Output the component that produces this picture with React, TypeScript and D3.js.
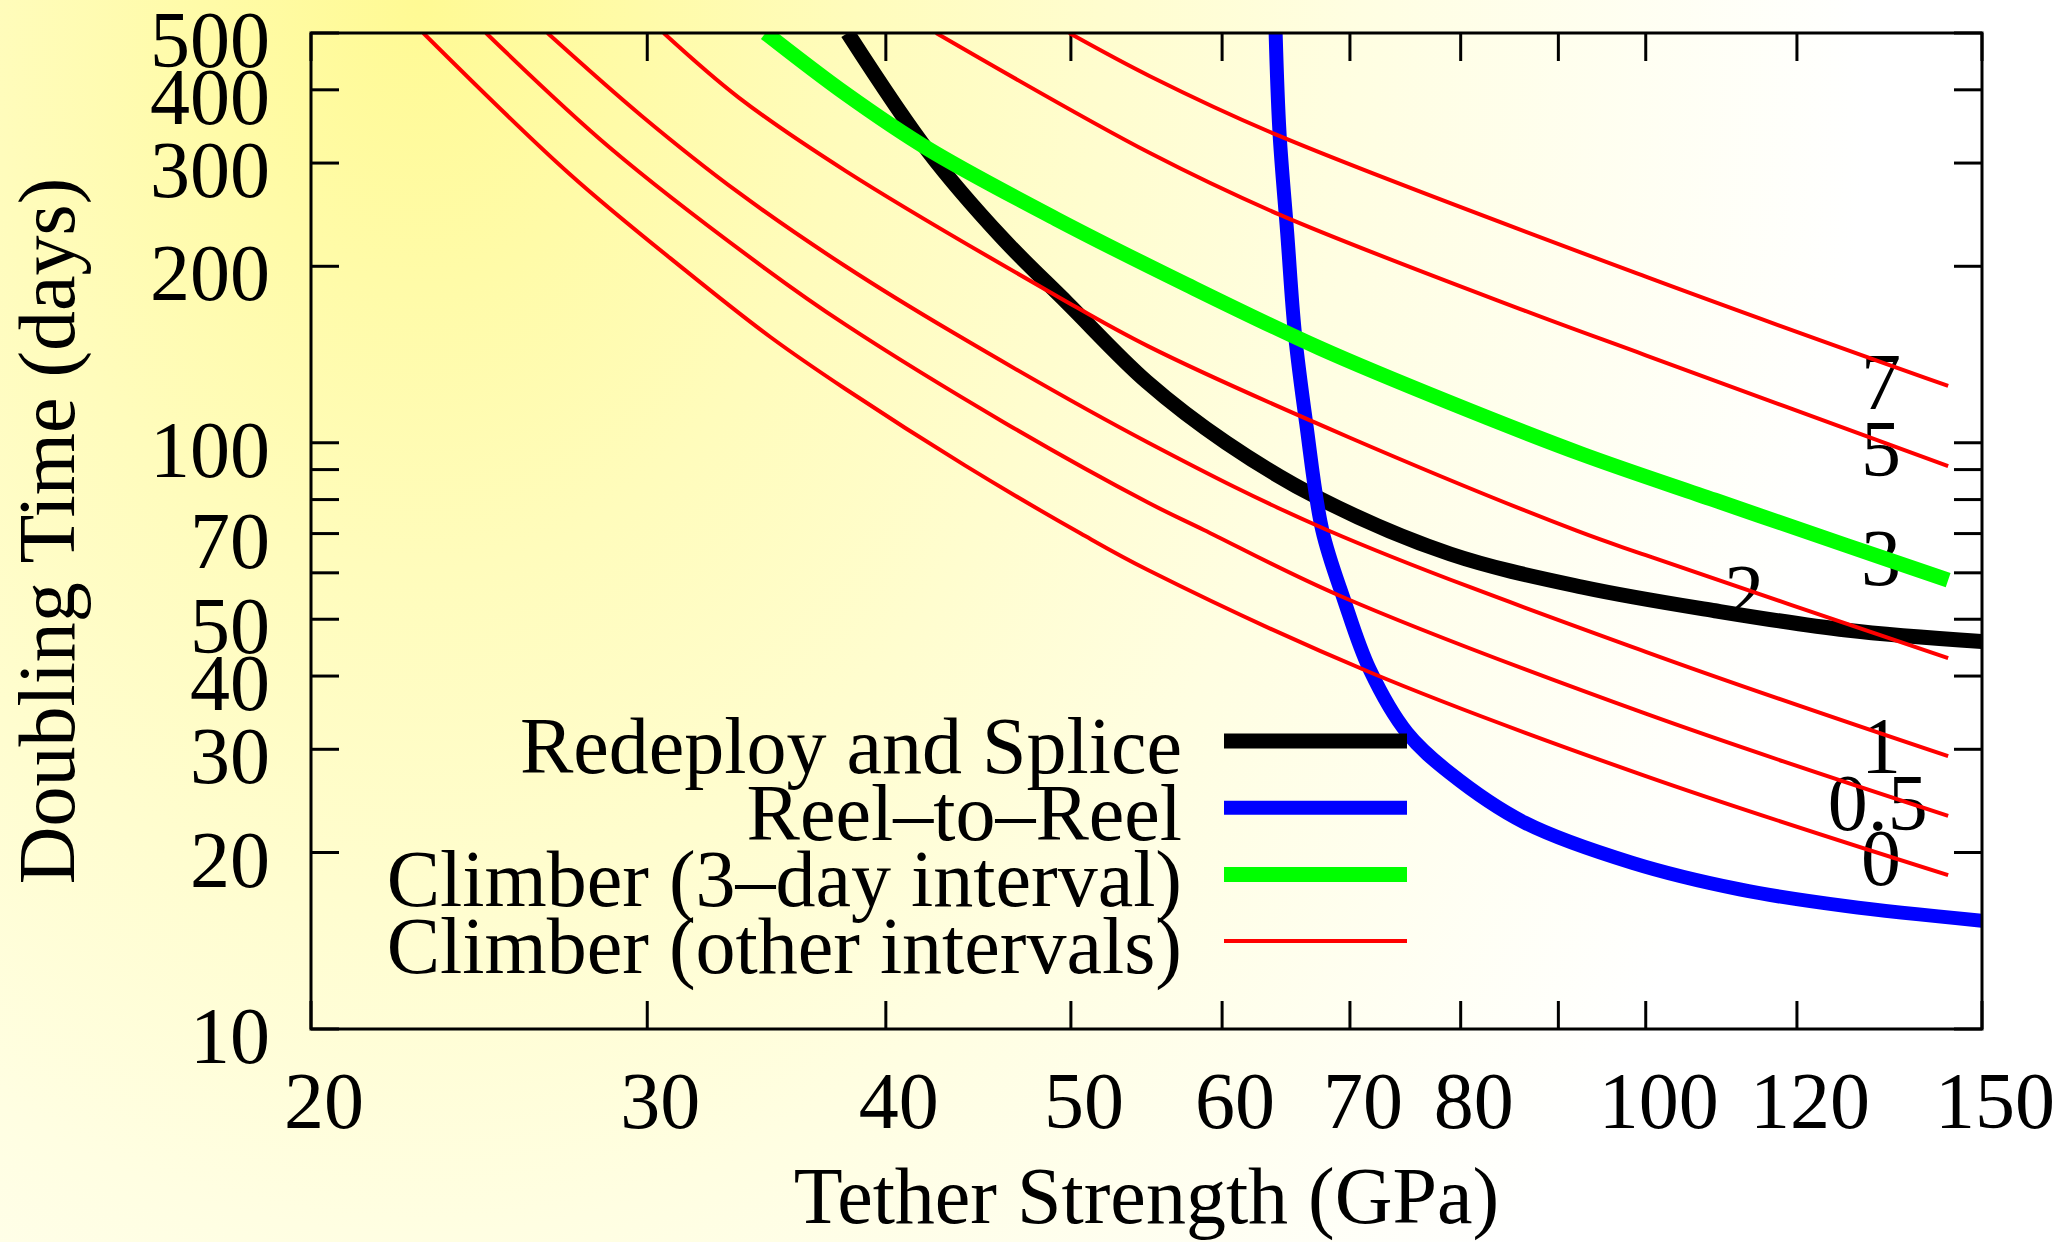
import React from 'react';
import * as d3 from 'd3';

const width = 2068;
const height = 1242;
const margin = { top: 33, right: 86, bottom: 213, left: 311 };

// axis ticks (log scales)
const xTicks = [20, 30, 40, 50, 60, 70, 80, 90, 100, 120, 150];
const xTickLabels = ['20', '30', '40', '50', '60', '70', '80', '', '100', '120', '150'];
const yTicks = [10, 20, 30, 40, 50, 60, 70, 80, 90, 100, 200, 300, 400, 500];
const yTickLabels = ['10', '20', '30', '40', '50', '', '70', '', '', '100', '200', '300', '400', '500'];

// Redeploy and Splice
const redeployX = [38.2, 42.1, 46, 49.8, 54.8, 60.3, 67.5, 79, 92.7, 108.7, 127.4, 150];
const redeployY = [500, 314, 224, 173, 127, 100, 80.3, 64.6, 56.7, 51.7, 47.9, 45.8];

// Reel-to-Reel
const reelX = [64.0, 64.3, 64.9, 65.5, 66.4, 67.7, 69.5, 71.7, 75, 79, 86.4, 98.4, 112, 127.4, 150];
const reelY = [500, 338, 228, 154, 108, 71, 54, 41, 32, 27.3, 22.5, 19.2, 17.3, 16.2, 15.3];

// Climber, 3-day interval
const climb3X = [34.6, 38.1, 42.1, 49.1, 57.5, 67.5, 79, 92.7, 108.7, 127.4, 144];
const climb3Y = [500, 394, 317, 241, 186, 145, 117, 95.5, 79.8, 66.8, 58.3];

// Climber, other intervals
const climb0X = [22.9, 27.3, 31.4, 34.8, 38.1, 44, 50.6, 54.9, 71.7, 100, 144];
const climb0Y = [500, 288, 197, 151.5, 123.5, 91.5, 70, 60.6, 40.6, 27, 18.3];
const climb05X = [24.7, 28.7, 34.6, 38.1, 46.2, 54.9, 58.7, 69, 100, 144];
const climb05Y = [500, 318, 198, 159, 108, 79, 71, 55, 34.5, 23.1];
const climb1X = [26.6, 29.8, 33.5, 38.1, 43.4, 54.9, 68.1, 100, 144];
const climb1Y = [500, 361, 267, 200, 154, 100, 71, 44, 29.2];
const climb2X = [30.6, 33.5, 38.1, 49.3, 54.9, 70, 92, 100, 144];
const climb2Y = [500, 388, 291, 177, 146, 102, 70.8, 64.3, 42.9];
const climb5X = [42.5, 55, 64.3, 86.4, 100, 144];
const climb5Y = [500, 312, 245, 168, 141, 91.2];
const climb7X = [49.9, 55, 64.1, 100, 144];
const climb7Y = [500, 422, 335, 192, 125];

// interval labels next to the curves
const intervalLabels = ['7', '5', '3', '2', '1', '0.5', '0'];
const intervalLabelX = [132.8, 132.8, 132.8, 112.6, 132.8, 132.3, 132.8];
const intervalLabelY = [127, 97.5, 63.6, 55.4, 30.4, 24.3, 19.6];

const legendNames = ['Redeploy and Splice', 'Reel\u2013to\u2013Reel', 'Climber (3\u2013day interval)', 'Climber (other intervals)'];
const legendColors = ['#000000', '#0000ff', '#00ff00', '#ff0000'];
const legendWidths = [15, 14, 15, 4];

const font = '"Liberation Serif", "Times New Roman", serif';

function zip(xs: number[], ys: number[]): [number, number][] {
  return xs.map((v, i) => [v, ys[i]]);
}

export default function App() {
  const x = d3.scaleLog().domain([20, 150]).range([margin.left, width - margin.right]);
  const y = d3.scaleLog().domain([10, 500]).range([height - margin.bottom, margin.top]);
  const line = d3.line<[number, number]>()
    .x(d => x(d[0]))
    .y(d => y(d[1]))
    .curve(d3.curveCatmullRom.alpha(0.5));

  const x0 = x.range()[0], x1 = x.range()[1];
  const y0 = y.range()[0], y1 = y.range()[1];
  const tick = 28;

  const thick = [
    { data: zip(redeployX, redeployY), color: legendColors[0], w: legendWidths[0] },
    { data: zip(reelX, reelY), color: legendColors[1], w: legendWidths[1] },
    { data: zip(climb3X, climb3Y), color: legendColors[2], w: legendWidths[2] },
  ];
  const reds = [
    zip(climb0X, climb0Y), zip(climb05X, climb05Y), zip(climb1X, climb1Y),
    zip(climb2X, climb2Y), zip(climb5X, climb5Y), zip(climb7X, climb7Y),
  ];

  return (
    <div style={{ position: 'absolute', left: 0, top: 0 }}>
      <svg width={width} height={height} style={{ display: 'block' }} fontFamily={font}>
        <defs>
          <radialGradient id="bg" gradientUnits="userSpaceOnUse" cx="0" cy="0" r="1"
            gradientTransform="translate(420,0) scale(1450,1900)">
            <stop offset="0" stopColor="rgb(255,250,148)" />
            <stop offset="0.3" stopColor="rgb(255,252,188)" />
            <stop offset="0.65" stopColor="rgb(255,254,226)" />
            <stop offset="1" stopColor="#ffffff" />
          </radialGradient>
          <clipPath id="plot">
            <rect x={x0} y={y1} width={x1 - x0} height={y0 - y1} />
          </clipPath>
        </defs>
        <rect x={0} y={0} width={width} height={height} fill="url(#bg)" />

        {/* ticks */}
        <g stroke="#000" strokeWidth={3}>
          {xTicks.map(t => (
            <g key={'x' + t}>
              <line x1={x(t)} x2={x(t)} y1={y0} y2={y0 - tick} />
              <line x1={x(t)} x2={x(t)} y1={y1} y2={y1 + tick} />
            </g>
          ))}
          {yTicks.map(t => (
            <g key={'y' + t}>
              <line x1={x0} x2={x0 + tick} y1={y(t)} y2={y(t)} />
              <line x1={x1} x2={x1 - tick} y1={y(t)} y2={y(t)} />
            </g>
          ))}
        </g>

        {/* tick labels */}
        <g fontSize={80} fill="#000">
          {xTicks.map((t, i) => (
            <text key={'xl' + t} x={x(t) + 13} y={1128} textAnchor="middle">{xTickLabels[i]}</text>
          ))}
          {yTicks.map((t, i) => (
            <text key={'yl' + t} x={270} y={y(t) + 34} textAnchor="end">{yTickLabels[i]}</text>
          ))}
        </g>

        {/* axis titles */}
        <text x={(x0 + x1) / 2} y={1223} fontSize={80} textAnchor="middle">Tether Strength (GPa)</text>
        <text transform={`translate(74,${(y0 + y1) / 2}) rotate(-90)`} fontSize={80} textAnchor="middle">Doubling Time (days)</text>

        {/* interval labels */}
        <g fontSize={80}>
          {intervalLabels.map((s, i) => (
            <text key={'il' + i} x={x(intervalLabelX[i])} y={y(intervalLabelY[i]) + 27} textAnchor="middle">{s}</text>
          ))}
        </g>

        {/* curves */}
        <g clipPath="url(#plot)" fill="none" strokeLinejoin="round">
          {thick.map((s, i) => (
            <path key={'t' + i} d={line(s.data) || ''} stroke={s.color} strokeWidth={s.w} />
          ))}
          {reds.map((d, i) => (
            <path key={'r' + i} d={line(d) || ''} stroke="#ff0000" strokeWidth={4} />
          ))}
        </g>

        {/* legend */}
        <g fontSize={80}>
          {legendNames.map((n, i) => (
            <g key={'lg' + i}>
              <text x={1182} y={773 + i * 66.7} textAnchor="end">{n}</text>
              <line x1={1224} x2={1407} y1={741 + i * 66.7} y2={741 + i * 66.7}
                stroke={legendColors[i]} strokeWidth={legendWidths[i]} />
            </g>
          ))}
        </g>

        {/* frame */}
        <rect x={x0} y={y1} width={x1 - x0} height={y0 - y1} fill="none" stroke="#000" strokeWidth={3} />
      </svg>
    </div>
  );
}
